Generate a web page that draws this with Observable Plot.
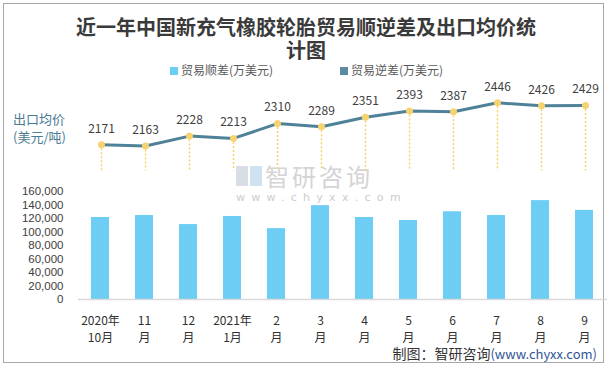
<!DOCTYPE html>
<html>
<head>
<meta charset="utf-8">
<script src="https://cdn.jsdelivr.net/npm/d3@7"></script>
<script src="https://cdn.jsdelivr.net/npm/@observablehq/plot@0.6"></script>
<style>
  html, body { margin: 0; padding: 0; background: #fff; }
  #chart { position: relative; width: 612px; height: 368px; overflow: hidden; font-family: "Noto Sans CJK SC", sans-serif; }
  #frame { position: absolute; left: 3px; top: 3px; width: 601px; height: 360px; border: 1px solid #a6a6a6; box-sizing: border-box; }
  .abs { position: absolute; white-space: nowrap; }
  .title { left: 0; width: 612px; text-align: center; font-size: 20px; font-weight: bold; color: #3a3a3a; line-height: 22px; height: 22px; }
  .legend { font-size: 12px; color: #595959; top: 62px; line-height: 16px; }
  .sw { display: inline-block; width: 8px; height: 8px; margin-right: 3px; vertical-align: 0px; }
  .ylab { left: 13px; font-size: 13px; color: #4a7b93; line-height: 18px; height: 18px; }
  #footer { right: 15px; top: 345px; font-size: 14px; color: #333; line-height: 17px; height: 17px; }
  #footer span { color: #2f5597; font-size: 13px; }
  #wm1 { left: 265px; top: 164px; font-size: 24px; color: #d4d4d4; line-height: 24px; height: 24px; letter-spacing: 3px; }
  #wm2 { left: 236px; top: 192px; font-size: 11px; color: #cccccc; line-height: 11px; height: 11px; letter-spacing: 6.3px; font-family: "DejaVu Sans", sans-serif; }
  #wmlogo { left: 236px; top: 166px; width: 26px; height: 20px; }
  #line, #bars { position: absolute; left: 0; }
  #line { top: 80px; }
  #bars { top: 175px; }
</style>
</head>
<body>
<div id="chart">
  <div id="frame"></div>
  <div class="abs title" style="top:16px">近一年中国新充气橡胶轮胎贸易顺逆差及出口均价统</div>
  <div class="abs title" style="top:39px">计图</div>
  <div class="abs legend" style="left:170px"><span class="sw" style="background:#6dcdf5"></span>贸易顺差(万美元)</div>
  <div class="abs legend" style="left:340px"><span class="sw" style="background:#5a8ba1"></span>贸易逆差(万美元)</div>
  <div class="abs ylab" style="top:110px">出口均价</div>
  <div class="abs ylab" style="top:128px">(美元/吨)</div>
  <div id="wm1" class="abs">智研咨询</div>
  <div id="wm2" class="abs">www.chyxx.com</div>
  <svg id="wmlogo" class="abs" viewBox="0 0 26 20"><rect x="0" y="0" width="12" height="20" fill="#d8dde6"/><rect x="14" y="0" width="12" height="20" fill="#cfe3f3"/></svg>
  <div id="line"></div>
  <div id="bars"></div>
  <div id="footer" class="abs">制图：智研咨询<span>(www.chyxx.com)</span></div>
</div>
<script>
const months = ["2020年\n10月","11\n月","12\n月","2021年\n1月","2\n月","3\n月","4\n月","5\n月","6\n月","7\n月","8\n月","9\n月"];
const surplus = [121500, 124400, 111000, 123000, 105000, 139000, 121500, 117000, 130000, 124400, 146500, 132000];
const price = [2171, 2163, 2228, 2213, 2310, 2289, 2351, 2393, 2387, 2446, 2426, 2429];
const yTicks = [0, 20000, 40000, 60000, 80000, 100000, 120000, 140000, 160000];

const barData = months.map((m, i) => ({month: m, value: surplus[i]}));
const lineData = months.map((m, i) => ({month: m, value: price[i]}));

const font = {fontFamily: '"Noto Sans CJK SC", sans-serif', fontSize: "12px", color: "#404040", background: "transparent", overflow: "visible"};
const xOpts = {domain: months, paddingInner: 0.59, paddingOuter: 0.295, align: 0.5};

const linePlot = Plot.plot({
  width: 612, height: 95,
  marginLeft: 78, marginRight: 5, marginTop: 0, marginBottom: 0,
  style: font,
  x: {...xOpts, axis: null},
  y: {domain: [1970, 2592], axis: null},
  marks: [
    Plot.ruleX(lineData, {x: "month", y1: "value", y2: 2000, stroke: "#f7d36f", strokeWidth: 1.5, strokeDasharray: "2,2"}),
    Plot.line(lineData, {x: "month", y: "value", stroke: "#4f8299", strokeWidth: 3}),
    Plot.dot(lineData, {x: "month", y: "value", r: 3.5, fill: "#f7d36f", stroke: "none"}),
    Plot.text(lineData, {x: "month", y: "value", text: d => String(d.value), dy: -16, fill: "#404040", fontSize: 12})
  ]
});
document.getElementById("line").appendChild(linePlot);

const barPlot = Plot.plot({
  width: 612, height: 175,
  marginLeft: 78, marginRight: 5, marginTop: 16, marginBottom: 51,
  style: font,
  x: {...xOpts, label: null},
  y: {domain: [0, 160000], ticks: yTicks, label: null},
  marks: [
    Plot.axisY({ticks: yTicks, tickSize: 0, tickPadding: 15, tickFormat: d3.format(","), label: null, fontSize: 11.5, fontFamily: '"Liberation Sans", Arial, sans-serif', fill: "#404040"}),
    Plot.axisX({tickSize: 0, tickPadding: 14, label: null, fontSize: 12, lineHeight: 1.4, fill: "#303030"}),
    Plot.barY(barData, {x: "month", y: "value", fill: "#6dcdf5"}),
    Plot.ruleY([0], {stroke: "#d9d9d9", strokeWidth: 1.5})
  ]
});
document.getElementById("bars").appendChild(barPlot);
</script>
</body>
</html>
